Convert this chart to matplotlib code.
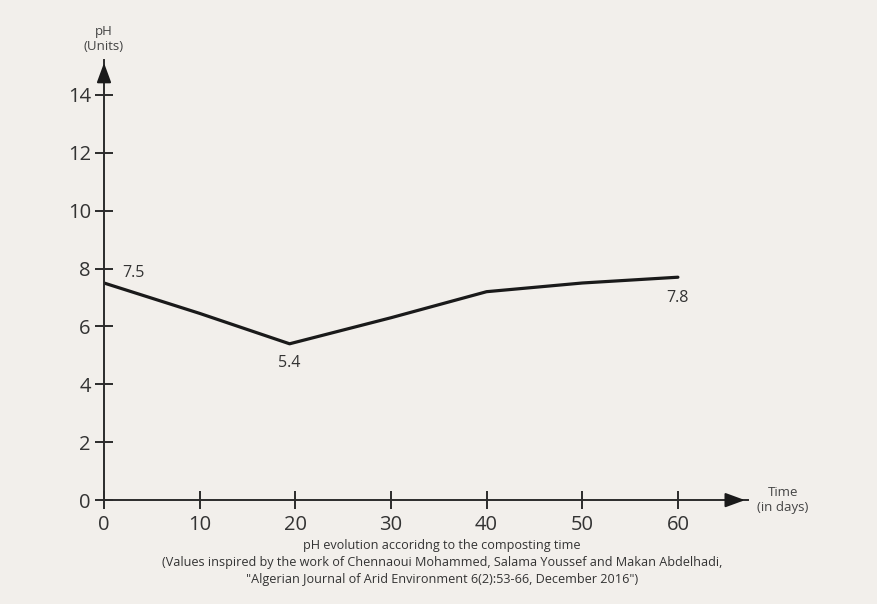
import matplotlib.pyplot as plt

# pH over composting time
days = [0, 10, 19.4, 30, 40, 50, 60]
ph = [7.5, 6.45, 5.4, 6.3, 7.2, 7.5, 7.7]

x_ticks = [0, 10, 20, 30, 40, 50, 60]
y_ticks = [0, 2, 4, 6, 8, 10, 12, 14]

point_labels = [(0, 7.5, "7.5"), (19.4, 5.4, "5.4"), (60, 7.7, "7.8")]

plt.rcParams['font.family'] = ['Open Sans', 'DejaVu Sans']
bg = '#f2efeb'
ink = '#2b2b2b'

fig = plt.figure(figsize=(8.77, 6.04), dpi=100, facecolor=bg)
ax = fig.add_axes([0.1186, 0.172, 0.734, 0.7285])
ax.set_facecolor(bg)

ax.plot(days, ph, color='#1a1a1a', lw=2.3, solid_capstyle='round', solid_joinstyle='round')

ax.set_xlim(0, 67.3)
ax.set_ylim(0, 15.2)
for s in ['top', 'right']:
    ax.spines[s].set_visible(False)
for s in ['left', 'bottom']:
    ax.spines[s].set_color(ink)
    ax.spines[s].set_linewidth(1.4)

ax.set_xticks(x_ticks)
ax.set_yticks(y_ticks)
ax.tick_params(direction='inout', length=13, width=1.4, color=ink,
               labelsize=14.5, labelcolor='#333333')
ax.tick_params(axis='x', pad=4)
ax.tick_params(axis='y', pad=3)

# arrow heads
head = '-|>,head_length=0.6,head_width=0.22'
ax.annotate('', xy=(1.0, 0), xytext=(0.97, 0), xycoords='axes fraction',
            arrowprops=dict(arrowstyle=head, color='#1a1a1a', lw=1.4, mutation_scale=20))
ax.annotate('', xy=(0, 1.0), xytext=(0, 0.96), xycoords='axes fraction',
            arrowprops=dict(arrowstyle=head, color='#1a1a1a', lw=1.4, mutation_scale=20))

offsets = {"7.5": (13, 7), "5.4": (0, -14), "7.8": (0, -15)}
for x, y, t in point_labels:
    dx, dy = offsets[t]
    ax.annotate(t, xy=(x, y), xytext=(dx, dy), textcoords='offset points',
                ha='left' if t == "7.5" else 'center', va='center',
                fontsize=11.5, color='#333333')

fig.text(104 / 877, 1 - 31 / 604, 'pH', ha='center', va='center', fontsize=9.5, color='#444444')
fig.text(104 / 877, 1 - 46 / 604, '(Units)', ha='center', va='center', fontsize=9.5, color='#444444')
fig.text(783 / 877, 1 - 492 / 604, 'Time', ha='center', va='center', fontsize=9.5, color='#444444')
fig.text(783 / 877, 1 - 508 / 604, '(in days)', ha='center', va='center', fontsize=9.5, color='#444444')

cap = ['pH evolution accoridng to the composting time',
       '(Values inspired by the work of Chennaoui Mohammed, Salama Youssef and Makan Abdelhadi,',
       '"Algerian Journal of Arid Environment 6(2):53-66, December 2016")']
for i, line in enumerate(cap):
    fig.text(442 / 877, 1 - (546 + 16.5 * i) / 604, line, ha='center', va='center',
             fontsize=9.1, color='#333333')

fig.savefig('out.png', dpi=100, facecolor=bg)
